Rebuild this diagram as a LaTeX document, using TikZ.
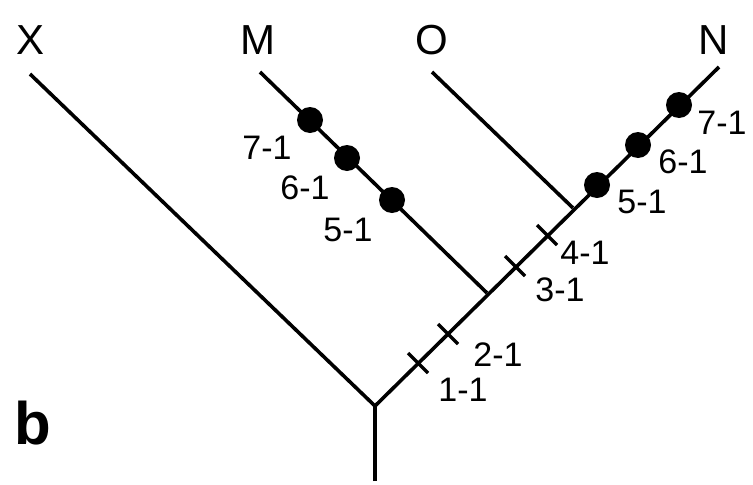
\documentclass[tikz,border=0pt]{standalone}
\usepackage{fontspec}
\setmainfont{Liberation Sans}
\usetikzlibrary{calc}
\begin{document}
\begin{tikzpicture}[x=1pt,y=-1pt,
  branch/.style={line width=3.6pt},
  tickmark/.style={line width=3.2pt},
  dotmark/.style={circle,fill=black,inner sep=0pt,minimum size=26pt},
  lbl/.style={font=\fontsize{34}{34}\selectfont,inner sep=0pt},
  taxon/.style={font=\fontsize{42}{42}\selectfont,inner sep=0pt}]
\useasboundingbox (0,0) rectangle (753,485);
% taxa labels
\node[taxon] (lx) at (31,40) {X};
\node[taxon] (lm) at (258,40) {M};
\node[taxon] (lo) at (432,40) {O};
\node[taxon] (ln) at (714,40) {N};
\node[font=\bfseries\fontsize{60}{60}\selectfont,inner sep=0pt] (lb) at (33,423) {b};
% coordinates
\coordinate (root) at (375,406);
\coordinate (bottom) at (375,481);
\coordinate (xtop) at (30,74);
\coordinate (mtop) at (260,72);
\coordinate (otop) at (432,72);
\coordinate (ntop) at (719,67);
\coordinate (jm) at (487,293);
\coordinate (jo) at (573,208);
% branches
\draw[branch] (bottom) -- (root);
\draw[branch] (root) -- (xtop);
\draw[branch] (root) -- (ntop);
\draw[branch] (jm) -- (mtop);
\draw[branch] (jo) -- (otop);
% ticks on main line
\coordinate (t1) at (418,363);
\coordinate (t2) at (448,334);
\coordinate (t3) at (515,266);
\coordinate (t4) at (547,235);
\foreach \t in {t1,t2,t3,t4}{\draw[tickmark] ($(\t)+(-10,-10)$) -- ($(\t)+(10,10)$);}
% dots
\node[dotmark] (m7) at (310,120) {};
\node[dotmark] (m6) at (347,158) {};
\node[dotmark] (m5) at (392,200) {};
\node[dotmark] (n5) at (597,185) {};
\node[dotmark] (n6) at (638,145) {};
\node[dotmark] (n7) at (679,105) {};
% labels
\node[lbl] (lm7) at (267,148) {7-1};
\node[lbl] (lm6) at (305,188) {6-1};
\node[lbl] (lm5) at (348,230) {5-1};
\node[lbl] (ln7) at (722,123) {7-1};
\node[lbl] (ln6) at (683,162) {6-1};
\node[lbl] (ln5) at (642,202) {5-1};
\node[lbl] (l4) at (585,253) {4-1};
\node[lbl] (l3) at (560,290) {3-1};
\node[lbl] (l2) at (498,355) {2-1};
\node[lbl] (l1) at (463,390) {1-1};
\end{tikzpicture}
\end{document}
